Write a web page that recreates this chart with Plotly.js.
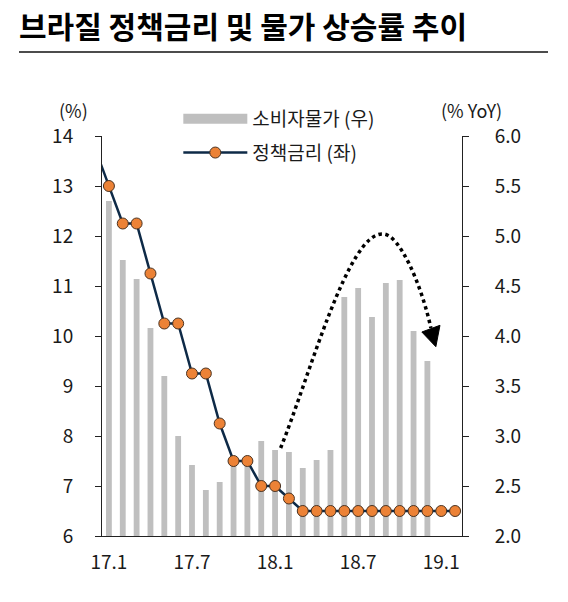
<!DOCTYPE html>
<html><head><meta charset="utf-8">
<script src="https://cdn.plot.ly/plotly-3.0.1.min.js"></script>
<style>html,body{margin:0;padding:0;background:#fff}#chart{width:568px;height:602px}</style>
</head><body><div id="chart"></div>
<script>
const months = ['16.12','17.1','17.2','17.3','17.4','17.5','17.6','17.7','17.8','17.9','17.10','17.11','17.12',
  '18.1','18.2','18.3','18.4','18.5','18.6','18.7','18.8','18.9','18.10','18.11','18.12','19.1','19.2'];
const policyRate = [13.75,13.0,12.25,12.25,11.25,10.25,10.25,9.25,9.25,8.25,7.5,7.5,7.0,
  7.0,6.75,6.5,6.5,6.5,6.5,6.5,6.5,6.5,6.5,6.5,6.5,6.5,6.5];
const cpi = [null,5.35,4.76,4.57,4.08,3.60,3.00,2.71,2.46,2.54,2.70,2.80,2.95,
  2.86,2.84,2.68,2.76,2.86,4.39,4.48,4.19,4.53,4.56,4.05,3.75,null,null];
const tickLabels = ['17.1','17.7','18.1','18.7','19.1'];
const cpiName = '소비자물가 (우)';
const rateName = '정책금리 (좌)';
const titleText = '브라질 정책금리 및 물가 상승률 추이';

const FONT = '"Noto Sans CJK KR", "Noto Sans", sans-serif';
const xIdx = months.map((m, i) => i - 1);
const tickVals = tickLabels.map(l => months.indexOf(l) - 1);
const boundaryVals = tickVals.map(v => v - 0.5);
const XR = [-0.5, 25.5];
const AX = '#222222';
const TXT = '#1a1a1a';

const traces = [
  {type:'bar', x:xIdx, y:cpi, yaxis:'y', name:cpiName, showlegend:false,
   marker:{color:'#BFBFBF'}, width:0.42, hoverinfo:'x+y'},
  {type:'scatter', mode:'lines', x:[null], y:[null], name:cpiName, legendgroup:'a',
   line:{color:'#BFBFBF', width:11}, hoverinfo:'skip'},
  {type:'scatter', mode:'lines+markers', x:xIdx, y:policyRate, yaxis:'y2', name:rateName, legendgroup:'b',
   line:{color:'#0E2A47', width:2.5},
   marker:{size:11, color:'#EC8236', line:{color:'#4a3322', width:1}}, cliponaxis:true}
];

const tickFont = {family:FONT, size:19, color:TXT};

const layout = {
  width:568, height:602,
  margin:{l:102, r:106, t:136, b:66},
  paper_bgcolor:'#ffffff', plot_bgcolor:'#ffffff',
  font:{family:FONT, size:19, color:TXT},
  title:{text:titleText, font:{family:FONT, size:30, color:'#000000', weight:700},
    xref:'container', x:19/568, xanchor:'left', yref:'container', y:1-27/602, yanchor:'middle'},
  showlegend:true,
  legend:{x:0.212, y:1.09, xanchor:'left', yanchor:'top', itemwidth:64, tracegroupgap:6,
    bgcolor:'rgba(0,0,0,0)', font:{family:FONT, size:19, color:TXT}},
  xaxis:{range:XR, tickvals:tickVals, ticktext:tickLabels, ticks:'', showline:true, linecolor:AX, linewidth:1,
    showgrid:false, zeroline:false, ticklabelstandoff:9, tickfont:tickFont, fixedrange:true},
  xaxis2:{overlaying:'x', anchor:'y', range:XR, tickvals:boundaryVals, ticks:'inside', ticklen:7, tickcolor:AX,
    showticklabels:false, showline:false, showgrid:false, zeroline:false, fixedrange:true},
  yaxis:{side:'right', range:[2,6], dtick:0.5, tickformat:'.1f', ticks:'outside', ticklen:6, tickcolor:AX,
    showline:true, linecolor:AX, linewidth:1, showgrid:false, zeroline:false, ticklabelstandoff:22,
    tickfont:tickFont, fixedrange:true},
  yaxis2:{side:'left', overlaying:'y', range:[6,14], dtick:1, ticks:'outside', ticklen:6, tickcolor:AX,
    showline:true, linecolor:AX, linewidth:1, showgrid:false, zeroline:false, ticklabelstandoff:18,
    tickfont:tickFont, fixedrange:true},
  yaxis3:{side:'left', overlaying:'y', anchor:'x', range:[6,14], dtick:1, ticks:'inside', ticklen:6, tickcolor:AX,
    showticklabels:false, showline:false, showgrid:false, zeroline:false, fixedrange:true},
  yaxis4:{side:'right', overlaying:'y', anchor:'x', range:[2,6], dtick:0.5, ticks:'inside', ticklen:6, tickcolor:AX,
    showticklabels:false, showline:false, showgrid:false, zeroline:false, fixedrange:true},
  annotations:[
    {text:'(%)', xref:'paper', yref:'paper', x:(73-102)/360, y:(536-110)/400, xanchor:'center', yanchor:'middle',
     showarrow:false, font:{family:FONT, size:18, color:TXT}},
    {text:'(% YoY)', xref:'paper', yref:'paper', x:(472-102)/360, y:(536-110)/400, xanchor:'center', yanchor:'middle',
     showarrow:false, font:{family:FONT, size:18, color:TXT}}
  ],
  shapes:[
    {type:'line', xref:'paper', yref:'paper', x0:(19-102)/360, x1:(548-102)/360, y0:(536-52)/400, y1:(536-52)/400,
     line:{color:'#111111', width:1.5}},
    {type:'path', xref:'x', yref:'y', path:'M 12.4,2.88 C 14.5,3.6 17.3,5.05 19.8,5.02 C 21.0,5.02 22.6,4.5 23.25,4.08',
     line:{color:'#000000', width:3.5, dash:'dot'}},
    {type:'path', xref:'x', yref:'y', path:'M 22.6,4.04 L 23.91,4.107 L 23.61,3.893 Z',
     fillcolor:'#000000', line:{color:'#000000', width:1}}
  ]
};

Plotly.newPlot('chart', traces, layout, {displayModeBar:false, staticPlot:true});
</script></body></html>
